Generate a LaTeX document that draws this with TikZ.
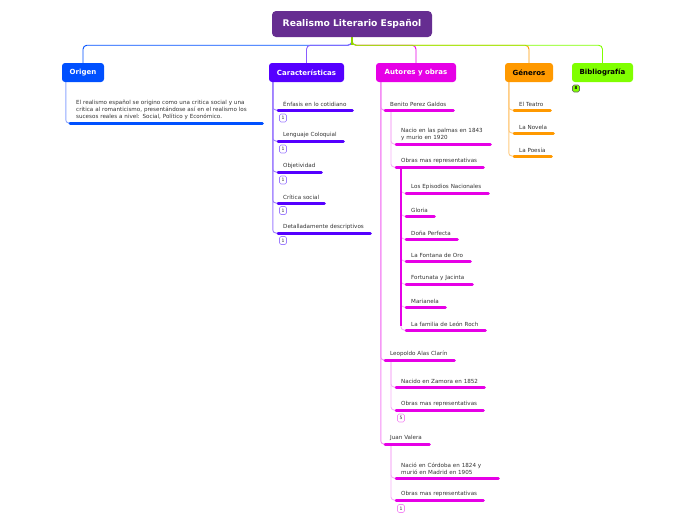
\documentclass[tikz,border=0pt]{standalone}
\usepackage{fontspec}
\setmainfont{DejaVu Sans}
\usetikzlibrary{backgrounds}
\definecolor{titlec}{HTML}{662D91}
\definecolor{origc}{HTML}{0050FF}
\definecolor{origl}{HTML}{8FA8FF}
\definecolor{carc}{HTML}{5500FF}
\definecolor{carl}{HTML}{9F7FFF}
\definecolor{carr}{HTML}{8A5CFF}
\definecolor{autc}{HTML}{E600E6}
\definecolor{autl}{HTML}{F48AF4}
\definecolor{autll}{HTML}{F6B0F6}
\definecolor{genc}{HTML}{FF9900}
\definecolor{genl}{HTML}{FFCB80}
\definecolor{bibc}{HTML}{80FF00}
\definecolor{stubc}{HTML}{8FD400}
\definecolor{txt}{HTML}{333333}
\newcommand\fitem{\fontsize{5.6}{7}\selectfont}
\newcommand\ftopic{\fontsize{7}{8}\selectfont\bfseries}
\newcommand\ftitle{\fontsize{9.2}{10}\selectfont\bfseries}
\tikzset{
  topic/.style={rounded corners=3pt, minimum height=19pt, inner sep=0pt, font=\ftopic, fill=#1},
  itm/.style 2 args={anchor=south west, inner xsep=5pt, inner ysep=3.6pt, text=txt, align=left,
    font=\fitem, text width=#2,
    append after command={(\tikzlastnode.south west) edge[draw=#1, line width=3pt, line cap=round] (\tikzlastnode.south east)}},
  badge/.style={draw=#1, fill=white, rounded corners=1.5pt, minimum width=7pt, minimum height=8pt,
    inner sep=0pt, line width=0.6pt, font=\fontsize{4.5}{5}\selectfont, text=txt},
  root/.style={line width=0.9pt, rounded corners=4pt, draw=#1},
  conn/.style={line width=0.9pt, rounded corners=3pt, draw=#1},
}
\begin{document}
\begin{tikzpicture}[x=1pt,y=-1pt]
\useasboundingbox (0,0) rectangle (696,520);
% title
\node[fill=titlec, rounded corners=4pt, minimum width=160pt, minimum height=26pt, inner sep=0pt,
  text=white, font=\ftitle] (title) at (352,24) {Realismo Literario Español};
% topics
\node[topic=origc, minimum width=42pt, text=white] (orig) at (83,72.5) {Origen};
\node[topic=carc, minimum width=75pt, text=white] (car) at (306.5,72.5) {Características};
\node[topic=autc, minimum width=80pt, text=white] (aut) at (416,72.5) {Autores y obras};
\node[topic=genc, minimum width=48pt, text=black] (gen) at (529,72.5) {Géneros};
\node[topic=bibc, minimum width=61pt, text=black] (bib) at (602.5,72.5) {Bibliografía};
\node[draw=black!60, fill=bibc, rounded corners=1.5pt, minimum width=7pt, minimum height=7pt, inner sep=0pt,
  line width=0.6pt, font=\fontsize{4}{4}\selectfont\bfseries] (bibb) at (576,88.5) {8};

% Origen
\node[itm={origc}{180pt}, inner xsep=6pt] (o1) at (70,123)
  {El realismo español se origino como una critica social y una\\critica al romanticismo, presentándose así en el realismo los\\sucesos reales a nivel: Social, Político y Económico.};

% Caracteristicas
\node[itm={carc}{64pt}] (c1) at (278,110) {Énfasis en lo cotidiano};
\node[itm={carc}{55pt}] (c2) at (278,141) {Lenguaje Coloquial};
\node[itm={carc}{33pt}] (c3) at (278,172) {Objetividad};
\node[itm={carc}{36pt}] (c4) at (278,203) {Crítica social};
\node[itm={carc}{82pt}] (c5) at (278,233) {Detalladamente descriptivos};
\node[badge=carl] (cb1) at (283,118) {1};
\node[badge=carl] (cb2) at (283,149) {1};
\node[badge=carl] (cb3) at (283,180) {1};
\node[badge=carl] (cb4) at (283,210.5) {1};
\node[badge=carl] (cb5) at (283,240.5) {1};

% Autores
\node[itm={autc}{58pt}] (a1) at (385,110) {Benito Perez Galdos};
\node[itm={autc}{84pt}] (a11) at (396,144) {Nacio en las palmas en 1843\\y murio en 1920};
\node[itm={autc}{77pt}] (a12) at (396,167) {Obras mas representativas};
\node[itm={autc}{72pt}] (w1) at (406,193) {Los Episodios Nacionales};
\node[itm={autc}{18pt}] (w2) at (406,216) {Gloria};
\node[itm={autc}{41pt}] (w3) at (406,239) {Doña Perfecta};
\node[itm={autc}{54pt}] (w4) at (406,261) {La Fontana de Oro};
\node[itm={autc}{56pt}] (w5) at (406,284) {Fortunata y Jacinta};
\node[itm={autc}{29pt}] (w6) at (406,307) {Marianela};
\node[itm={autc}{69pt}] (w7) at (406,330) {La familia de León Roch};
\node[itm={autc}{59pt}] (a2) at (385,360) {Leopoldo Alas Clarín};
\node[itm={autc}{78pt}] (a21) at (396,387) {Nacido en Zamora en 1852};
\node[itm={autc}{77pt}] (a22) at (396,410) {Obras mas representativas};
\node[badge=autl] (ab2) at (401,418) {5};
\node[itm={autc}{34pt}] (a3) at (385,444) {Juan Valera};
\node[itm={autc}{92pt}] (a31) at (396,478) {Nació en Córdoba en 1824 y\\murió en Madrid en 1905};
\node[itm={autc}{77pt}] (a32) at (396,500) {Obras mas representativas};
\node[badge=autl] (ab3) at (401,508.5) {1};

% Generos
\node[itm={genc}{26pt}] (g1) at (514,110) {El Teatro};
\node[itm={genc}{29pt}] (g2) at (514,133) {La Novela};
\node[itm={genc}{27pt}] (g3) at (514,156) {La Poesía};

\begin{scope}[on background layer]
% root connectors
\draw[root=origc] (title.south) -- ++(0,8) -| (orig.north);
\draw[root=carr] (title.south) -- ++(0,8) -| (car.north);
\draw[root=autc] (title.south) -- ++(0,8) -| (aut.north);
\draw[root=genc] (title.south) -- ++(0,8) -| (gen.north);
\draw[root=bibc] (title.south) -- ++(0,8) -| (bib.north);
\draw[line width=1.2pt, stubc] (title.south) -- ++(0,8);
% Origen
\draw[conn=origl] ([xshift=4pt]orig.south west) |- (o1.south west);
% Caracteristicas
\foreach \n in {c1,c2,c3,c4,c5}
  \draw[conn=carl] ([xshift=4pt]car.south west) |- (\n.south west);
% Autores
\foreach \n in {a1,a2,a3}
  \draw[conn=autl] ([xshift=5pt]aut.south west) |- (\n.south west);
\foreach \n in {a11,a12}
  \draw[conn=autll] ([xshift=6pt]a1.south west) |- (\n.south west);
\foreach \n in {w1,w2,w3,w4,w5,w6,w7}
  \draw[conn=autll] ([xshift=5pt]a12.south west) |- (\n.south west);
\draw[line width=1.1pt, autc] ([xshift=5pt]a12.south west) -- ([xshift=5pt,yshift=4pt]a12.south west |- w7.south west);
\foreach \n in {a21,a22}
  \draw[conn=autll] ([xshift=6pt]a2.south west) |- (\n.south west);
\foreach \n in {a31,a32}
  \draw[conn=autll] ([xshift=6pt]a3.south west) |- (\n.south west);
% Generos
\foreach \n in {g1,g2,g3}
  \draw[conn=genl] ([xshift=4pt]gen.south west) |- (\n.south west);
\end{scope}
\end{tikzpicture}
\end{document}
